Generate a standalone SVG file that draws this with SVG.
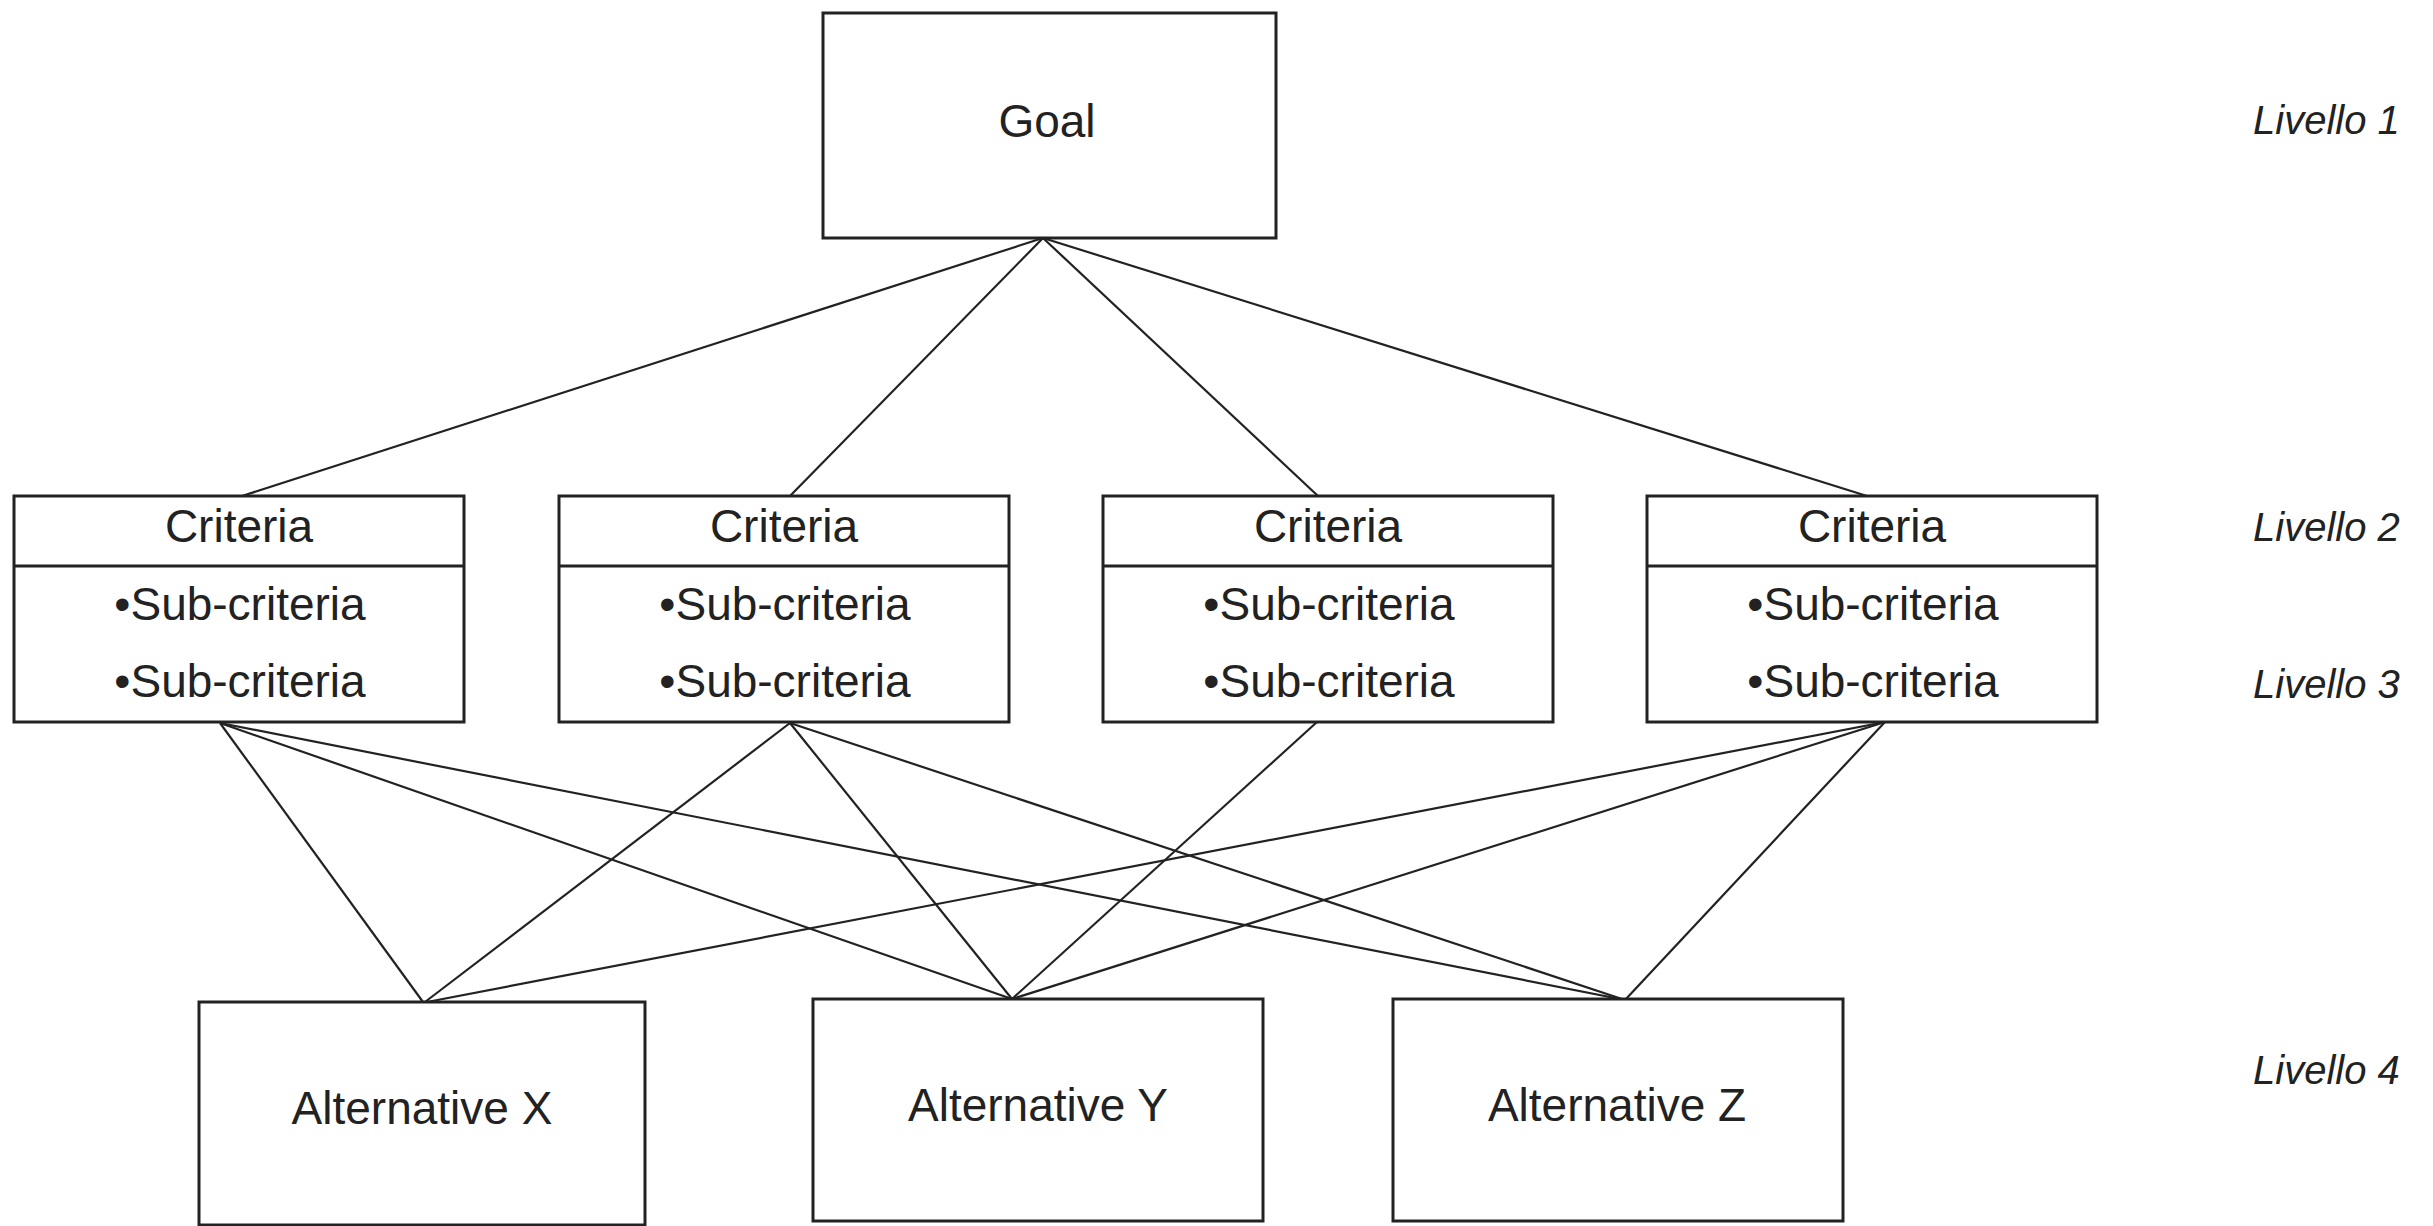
<svg xmlns="http://www.w3.org/2000/svg" width="2433" height="1226" viewBox="0 0 2433 1226">
<style>
.box{fill:#ffffff;stroke:#222222;stroke-width:3}
.div{stroke:#222222;stroke-width:3}
.lbl{font-family:"Liberation Sans",Arial,sans-serif;font-size:46px;fill:#222222;text-anchor:middle}
.lvl{font-family:"Liberation Sans",Arial,sans-serif;font-size:40px;font-style:italic;fill:#222222}
.conn line{stroke:#222222;stroke-width:2.2}
</style>
<rect width="2433" height="1226" fill="#ffffff"/>
<g id="connectors" class="conn">
<line x1="1043" y1="238" x2="242" y2="496"/>
<line x1="1043" y1="238" x2="790" y2="496"/>
<line x1="1043" y1="238" x2="1318" y2="496"/>
<line x1="1043" y1="238" x2="1867" y2="496"/>
<line x1="220" y1="723" x2="423" y2="1002"/>
<line x1="220" y1="723" x2="1012" y2="999"/>
<line x1="220" y1="723" x2="1625" y2="1000"/>
<line x1="790" y1="723" x2="425" y2="1002"/>
<line x1="790" y1="723" x2="1012" y2="999"/>
<line x1="790" y1="723" x2="1625" y2="1000"/>
<line x1="1317" y1="722" x2="1012" y2="999"/>
<line x1="1885" y1="722" x2="427" y2="1002"/>
<line x1="1885" y1="722" x2="1012" y2="999"/>
<line x1="1885" y1="722" x2="1625" y2="1000"/>
</g>
<g id="goal">
<rect class="box" x="823" y="13" width="453" height="225"/>
<text class="lbl" x="1047" y="137">Goal</text>
</g>
<g id="criteria1">
<rect class="box" x="14" y="496" width="450" height="226"/>
<line class="div" x1="14" y1="566" x2="464" y2="566"/>
<text class="lbl" x="239" y="542">Criteria</text>
<text class="lbl" x="240" y="620">•Sub-criteria</text>
<text class="lbl" x="240" y="697">•Sub-criteria</text>
</g>
<g id="criteria2">
<rect class="box" x="559" y="496" width="450" height="226"/>
<line class="div" x1="559" y1="566" x2="1009" y2="566"/>
<text class="lbl" x="784" y="542">Criteria</text>
<text class="lbl" x="785" y="620">•Sub-criteria</text>
<text class="lbl" x="785" y="697">•Sub-criteria</text>
</g>
<g id="criteria3">
<rect class="box" x="1103" y="496" width="450" height="226"/>
<line class="div" x1="1103" y1="566" x2="1553" y2="566"/>
<text class="lbl" x="1328" y="542">Criteria</text>
<text class="lbl" x="1329" y="620">•Sub-criteria</text>
<text class="lbl" x="1329" y="697">•Sub-criteria</text>
</g>
<g id="criteria4">
<rect class="box" x="1647" y="496" width="450" height="226"/>
<line class="div" x1="1647" y1="566" x2="2097" y2="566"/>
<text class="lbl" x="1872" y="542">Criteria</text>
<text class="lbl" x="1873" y="620">•Sub-criteria</text>
<text class="lbl" x="1873" y="697">•Sub-criteria</text>
</g>
<g id="altX">
<rect class="box" x="199" y="1002" width="446" height="223"/>
<text class="lbl" x="422" y="1124">Alternative X</text>
</g>
<g id="altY">
<rect class="box" x="813" y="999" width="450" height="222"/>
<text class="lbl" x="1038" y="1121">Alternative Y</text>
</g>
<g id="altZ">
<rect class="box" x="1393" y="999" width="450" height="222"/>
<text class="lbl" x="1617" y="1121">Alternative Z</text>
</g>
<g id="levels">
<text class="lvl" x="2253" y="134">Livello 1</text>
<text class="lvl" x="2253" y="541">Livello 2</text>
<text class="lvl" x="2253" y="698">Livello 3</text>
<text class="lvl" x="2253" y="1084">Livello 4</text>
</g>
</svg>
